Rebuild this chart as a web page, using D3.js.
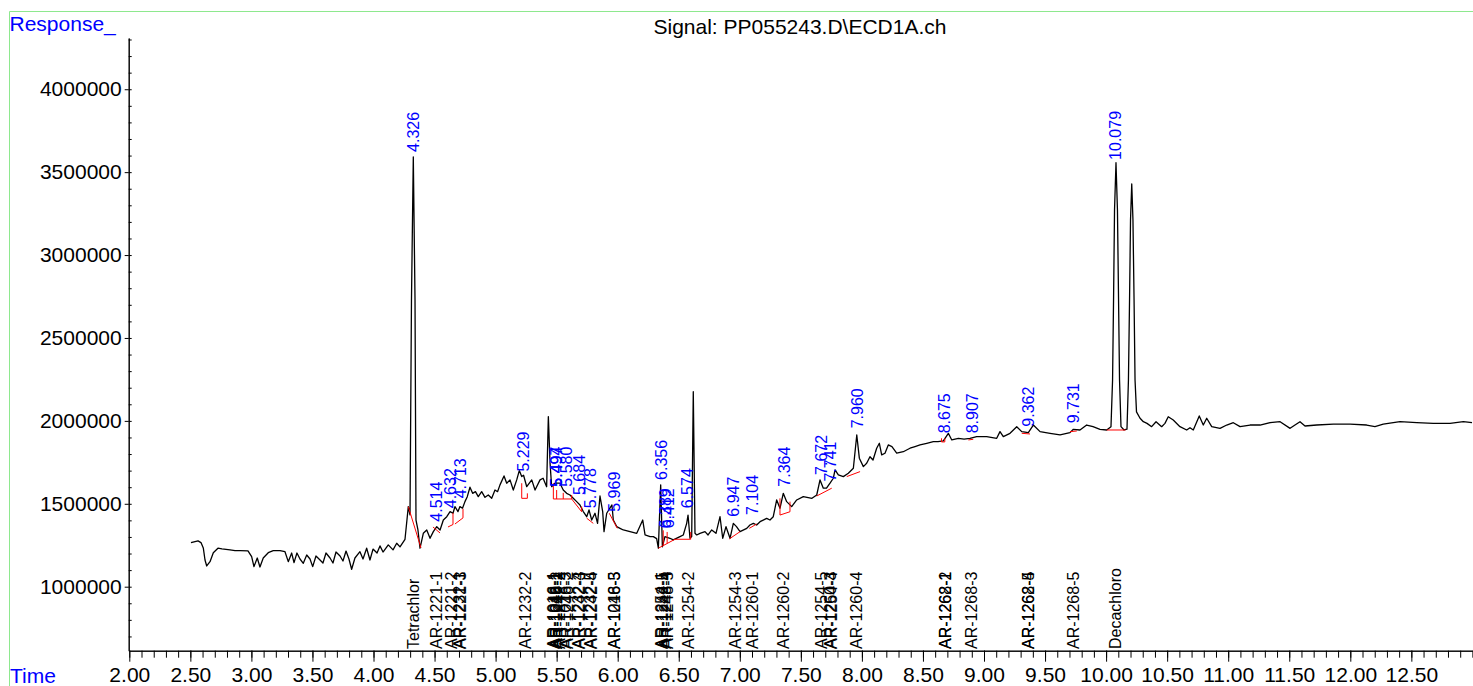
<!DOCTYPE html>
<html>
<head>
<meta charset="utf-8">
<script src="https://cdn.jsdelivr.net/npm/d3@7"></script>
<style>
  body { margin: 0; background: #fff; }
  svg { display: block; font-family: "Liberation Sans", Arial, sans-serif; }
</style>
</head>
<body>
<div id="chart"></div>
<script>
// chromatogram: [retention time (min), response]
const trace = [
  [2.505,1266000],[2.538,1272000],[2.563,1276000],[2.587,1266000],[2.606,1234000],[2.620,1161000],[2.634,1125000],
  [2.661,1151000],[2.688,1205000],[2.726,1232000],[2.759,1228000],[2.792,1225000],[2.825,1222000],[2.866,1217000],
  [2.907,1217000],[2.972,1216000],[3.002,1181000],[3.021,1121000],[3.048,1173000],[3.070,1119000],[3.097,1173000],
  [3.138,1205000],[3.179,1217000],[3.234,1217000],[3.275,1211000],[3.302,1151000],[3.330,1203000],[3.349,1145000],
  [3.373,1203000],[3.398,1167000],[3.425,1141000],[3.453,1191000],[3.480,1167000],[3.502,1121000],[3.529,1185000],
  [3.562,1161000],[3.586,1143000],[3.611,1203000],[3.644,1173000],[3.668,1143000],[3.693,1209000],[3.726,1185000],
  [3.750,1155000],[3.775,1215000],[3.799,1167000],[3.821,1105000],[3.848,1173000],[3.889,1211000],[3.914,1167000],
  [3.944,1232000],[3.971,1161000],[3.996,1227000],[4.029,1203000],[4.053,1246000],[4.078,1209000],[4.121,1252000],
  [4.160,1222000],[4.190,1262000],[4.217,1240000],[4.258,1286000],[4.285,1483000],[4.299,1433000],[4.311,2729000],
  [4.326,3592000],[4.340,2729000],[4.348,1402000],[4.364,1342000],[4.381,1232000],[4.408,1322000],[4.436,1342000],
  [4.463,1292000],[4.490,1332000],[4.518,1362000],[4.545,1342000],[4.572,1402000],[4.600,1422000],[4.627,1453000],
  [4.651,1443000],[4.667,1483000],[4.692,1453000],[4.708,1483000],[4.729,1473000],[4.749,1513000],[4.768,1543000],
  [4.790,1600000],[4.812,1563000],[4.835,1573000],[4.858,1543000],[4.886,1573000],[4.913,1539000],[4.940,1553000],
  [4.968,1533000],[4.995,1583000],[5.016,1573000],[5.036,1614000],[5.069,1668000],[5.091,1624000],[5.118,1644000],
  [5.145,1583000],[5.173,1644000],[5.194,1700000],[5.214,1664000],[5.229,1672000],[5.255,1603000],[5.296,1644000],
  [5.323,1583000],[5.364,1644000],[5.389,1654000],[5.418,1603000],[5.432,2026000],[5.446,1744000],[5.459,1603000],
  [5.486,1624000],[5.527,1624000],[5.554,1583000],[5.582,1563000],[5.609,1553000],[5.636,1533000],[5.664,1513000],
  [5.691,1493000],[5.718,1453000],[5.746,1422000],[5.765,1463000],[5.787,1402000],[5.814,1443000],[5.835,1382000],
  [5.855,1547000],[5.877,1453000],[5.888,1332000],[5.910,1443000],[5.953,1493000],[5.964,1402000],[5.992,1362000],
  [6.019,1352000],[6.046,1342000],[6.101,1332000],[6.156,1322000],[6.205,1402000],[6.224,1312000],[6.265,1302000],
  [6.292,1302000],[6.319,1290000],[6.333,1232000],[6.352,1614000],[6.366,1241000],[6.387,1302000],[6.428,1292000],
  [6.455,1282000],[6.510,1302000],[6.537,1312000],[6.565,1382000],[6.576,1432000],[6.592,1292000],[6.606,1302000],
  [6.619,2176000],[6.633,1322000],[6.647,1312000],[6.674,1322000],[6.715,1332000],[6.740,1312000],[6.770,1342000],
  [6.805,1322000],[6.838,1422000],[6.860,1292000],[6.887,1362000],[6.920,1292000],[6.947,1382000],[6.973,1362000],
  [7.002,1332000],[7.057,1352000],[7.083,1372000],[7.111,1382000],[7.138,1372000],[7.166,1392000],[7.220,1412000],
  [7.247,1402000],[7.274,1422000],[7.302,1523000],[7.329,1473000],[7.356,1563000],[7.384,1513000],[7.425,1483000],
  [7.466,1523000],[7.520,1543000],[7.591,1533000],[7.630,1553000],[7.657,1644000],[7.684,1594000],[7.710,1594000],
  [7.739,1624000],[7.766,1654000],[7.780,1704000],[7.807,1674000],[7.848,1664000],[7.889,1684000],[7.930,1714000],
  [7.958,1915000],[7.979,1775000],[8.012,1724000],[8.039,1744000],[8.066,1784000],[8.091,1764000],[8.121,1835000],
  [8.143,1865000],[8.162,1795000],[8.189,1805000],[8.216,1855000],[8.246,1845000],[8.285,1805000],[8.339,1814000],
  [8.394,1835000],[8.435,1845000],[8.476,1855000],[8.531,1865000],[8.585,1875000],[8.623,1875000],[8.667,1880000],
  [8.708,1925000],[8.736,1885000],[8.790,1895000],[8.837,1890000],[8.885,1895000],[8.940,1905000],[9.022,1905000],
  [9.104,1895000],[9.131,1935000],[9.158,1905000],[9.213,1925000],[9.268,1965000],[9.309,1935000],[9.363,1929000],
  [9.404,1975000],[9.459,1935000],[9.541,1925000],[9.623,1915000],[9.704,1929000],[9.732,1949000],[9.786,1945000],
  [9.841,1975000],[9.893,1965000],[9.950,1949000],[10.005,1945000],[10.040,1965000],[10.053,2246000],[10.061,2729000],
  [10.069,3272000],[10.081,3557000],[10.093,3272000],[10.102,2729000],[10.110,2246000],[10.122,1965000],[10.147,1945000],
  [10.171,1950000],[10.183,2246000],[10.192,2729000],[10.200,3212000],[10.210,3429000],[10.220,3212000],[10.229,2729000],
  [10.237,2246000],[10.249,2054000],[10.278,2016000],[10.305,1995000],[10.335,1985000],[10.373,1965000],[10.409,1995000],
  [10.455,1965000],[10.482,1985000],[10.509,2025000],[10.550,2005000],[10.605,1965000],[10.660,1945000],[10.687,1959000],
  [10.714,1945000],[10.763,2030000],[10.796,1975000],[10.824,2016000],[10.865,1965000],[10.933,1955000],[10.988,1975000],
  [11.042,1989000],[11.097,1965000],[11.179,1975000],[11.261,1975000],[11.343,1989000],[11.425,1995000],[11.507,1955000],
  [11.547,1975000],[11.588,1995000],[11.629,1969000],[11.725,1975000],[11.861,1980000],[11.998,1980000],[12.134,1975000],
  [12.202,1965000],[12.270,1980000],[12.407,1995000],[12.544,1989000],[12.680,1985000],[12.817,1985000],[12.926,1995000],
  [12.997,1989000]
];

// integration baselines and drop lines: [t0, resp0, t1, resp1]
const baselines = [
  [4.285,1483000,4.389,1234000],
  [4.487,1360000,4.545,1324000],
  [4.610,1360000,4.651,1375000],[4.651,1375000,4.651,1445000],
  [4.667,1378000,4.733,1415000],[4.733,1415000,4.733,1470000],
  [5.214,1624000,5.214,1533000],[5.214,1533000,5.260,1533000],[5.260,1533000,5.260,1563000],
  [5.473,1529000,5.623,1529000],[5.473,1529000,5.473,1624000],[5.500,1529000,5.500,1583000],
  [5.554,1529000,5.554,1566000],[5.623,1529000,5.623,1553000],
  [5.623,1529000,5.705,1452000],[5.705,1452000,5.705,1483000],
  [5.746,1413000,5.800,1382000],
  [5.931,1443000,5.997,1352000],
  [6.333,1232000,6.469,1286000],[6.469,1286000,6.598,1286000],
  [6.373,1248000,6.373,1340000],[6.405,1261000,6.405,1330000],[6.598,1286000,6.598,1330000],
  [6.914,1288000,7.002,1332000],
  [7.078,1352000,7.138,1378000],
  [7.329,1533000,7.329,1432000],[7.329,1432000,7.411,1452000],[7.411,1452000,7.411,1513000],
  [7.630,1547000,7.753,1594000],
  [7.876,1664000,7.985,1694000],
  [8.652,1873000,8.679,1873000],[8.652,1873000,8.652,1895000],[8.679,1873000,8.679,1895000],
  [8.872,1885000,8.912,1889000],
  [9.309,1925000,9.377,1921000],
  [9.704,1935000,9.760,1939000],
  [10.005,1945000,10.159,1945000]
];

// integrated peaks: retention time and response at the foot of each label
const peakTimes = [4.326,4.514,4.632,4.713,5.229,5.494,5.497,5.580,5.684,5.778,5.969,6.356,6.389,6.412,
  6.574,6.947,7.104,7.364,7.672,7.741,7.960,8.675,8.907,9.362,9.731,10.079];
const peakLabelResp = [3622000,1392000,1473000,1533000,1694000,1603000,1603000,1603000,1553000,1473000,1452000,
  1644000,1352000,1352000,1473000,1422000,1433000,1603000,1674000,1634000,1955000,1925000,1925000,1965000,1985000,3574000];

// expected compound windows
const compoundNames = ["Tetrachlor","AR-1221-1","AR-1221-2","AR-1221-3","AR-1232-1","AR-1232-2",
  "AR-1016-1","AR-1242-1","AR-1248-1","AR-1016-2","AR-1242-2","AR-1016-3","AR-1248-2","AR-1232-4","AR-1242-3",
  "AR-1232-5","AR-1242-4","AR-1016-5","AR-1248-3",
  "AR-1254-1","AR-1242-5","AR-1248-4","AR-1248-5","AR-1254-2","AR-1254-3","AR-1260-1","AR-1260-2",
  "AR-1254-5","AR-1260-3","AR-1254-4","AR-1260-4","AR-1268-1","AR-1262-2","AR-1268-3","AR-1262-5","AR-1268-4",
  "AR-1268-5","Decachloro"];
const compoundTimes = [4.326,4.512,4.640,4.713,4.700,5.240,
  5.470,5.480,5.494,5.500,5.520,5.575,5.585,5.680,5.690,
  5.778,5.785,5.969,5.975,
  6.356,6.370,6.389,6.410,6.578,6.960,7.100,7.356,
  7.672,7.741,7.748,7.957,8.680,8.684,8.900,9.360,9.364,
  9.730,10.079];

const xMajor = [2,2.5,3,3.5,4,4.5,5,5.5,6,6.5,7,7.5,8,8.5,9,9.5,10,10.5,11,11.5,12,12.5];
const yMajor = [1000000,1500000,2000000,2500000,3000000,3500000,4000000];

const width = 1473, height = 686;
const blue = "#0000ff";
const font = "21px";

const svg = d3.select("#chart").append("svg")
  .attr("width", width)
  .attr("height", height);

svg.append("rect").attr("width", width).attr("height", height).attr("fill", "#fff");

// thin green frame of the report page
svg.append("path")
  .attr("d", "M9.5,686V11.5H1473")
  .attr("fill", "none")
  .attr("stroke", "#8ee88e")
  .attr("stroke-width", 1);

const x = d3.scaleLinear().domain([2, 13]).range([129.3, 1472.4]);
const y = d3.scaleLinear().domain([614000, 4309000]).range([650.7, 38]);

// x axis
const xMinor = d3.range(2, 13.001, 0.1).map(d => +d.toFixed(1));
svg.append("g")
  .attr("transform", "translate(0,650.7)")
  .call(d3.axisBottom(x).tickValues(xMinor).tickSize(7).tickSizeOuter(0).tickFormat(""));
const gx = svg.append("g")
  .attr("transform", "translate(0,650.7)")
  .call(d3.axisBottom(x).tickValues(xMajor).tickSize(11).tickSizeOuter(0).tickPadding(5).tickFormat(d3.format(".2f")));
gx.selectAll("text").attr("font-size", font).attr("font-family", "Liberation Sans, Arial, sans-serif").attr("fill", "#000");

// y axis
const yMinor = d3.range(700000, 4300001, 100000);
svg.append("g")
  .attr("transform", "translate(128.7,0)")
  .call(d3.axisRight(y).tickValues(yMinor).tickSize(3).tickSizeOuter(0).tickFormat(""));
const gy = svg.append("g")
  .attr("transform", "translate(128.7,0)")
  .call(d3.axisLeft(y).tickValues(yMajor).tickSize(4).tickSizeOuter(0).tickPadding(3).tickFormat(d3.format("d")));
gy.selectAll("text").attr("font-size", font).attr("font-family", "Liberation Sans, Arial, sans-serif").attr("fill", "#000");

svg.selectAll(".domain, .tick line").attr("stroke", "#000").attr("stroke-width", 1);

// chromatogram
const line = d3.line().x(d => x(d[0])).y(d => y(d[1]));
svg.append("path")
  .datum(trace)
  .attr("d", line)
  .attr("fill", "none")
  .attr("stroke", "#000")
  .attr("stroke-width", 1.3)
  .attr("stroke-linejoin", "round");

// baselines
svg.append("g").selectAll("line")
  .data(baselines)
  .join("line")
  .attr("x1", d => x(d[0])).attr("y1", d => y(d[1]))
  .attr("x2", d => x(d[2])).attr("y2", d => y(d[3]))
  .attr("stroke", "#ff0000")
  .attr("stroke-width", 1);

// peak retention time labels
svg.append("g").selectAll("text")
  .data(peakTimes)
  .join("text")
  .attr("transform", (d, i) => `translate(${x(d)},${y(peakLabelResp[i])}) rotate(-90)`)
  .attr("dy", "0.35em")
  .attr("font-size", "16px")
  .attr("fill", blue)
  .text(d => d.toFixed(3));

// compound names along the bottom
svg.append("g").selectAll("text")
  .data(compoundNames)
  .join("text")
  .attr("transform", (d, i) => `translate(${x(compoundTimes[i])},649) rotate(-90)`)
  .attr("dy", "0.35em")
  .attr("font-size", "16px")
  .attr("fill", "#000")
  .text(d => d);

// titles
svg.append("text")
  .attr("x", 800).attr("y", 34)
  .attr("text-anchor", "middle")
  .attr("font-size", font)
  .attr("fill", "#000")
  .text("Signal: PP055243.D\\ECD1A.ch");

svg.append("text")
  .attr("x", 9.5).attr("y", 31)
  .attr("font-size", font)
  .attr("fill", blue)
  .text("Response_");

svg.append("text")
  .attr("x", 10).attr("y", 683)
  .attr("font-size", font)
  .attr("fill", blue)
  .text("Time");
</script>
</body>
</html>
